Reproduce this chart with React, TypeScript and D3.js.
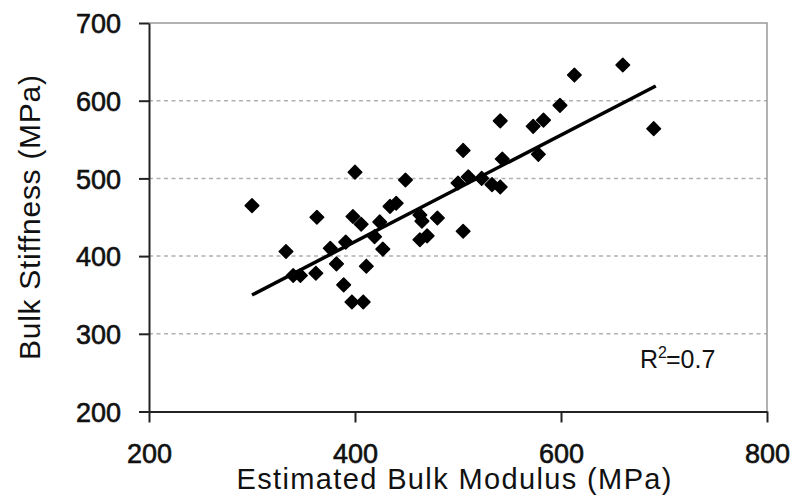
import React, { useEffect, useRef } from 'react';
import * as d3 from 'd3';

// estimated bulk modulus (MPa) vs measured bulk stiffness (MPa)
const modulus = [300, 333, 340, 347, 362, 363, 376, 382, 389, 391, 397, 408, 398, 400, 406, 411, 419, 424, 427, 434, 440, 449, 463, 465, 463, 470, 480, 505, 505, 500, 510, 523, 533, 541, 543, 541, 573, 583, 578, 599, 613, 660, 690];
const stiffness = [465, 406, 375, 375, 378, 450, 410, 390, 363, 418, 341, 341, 451, 508, 441, 387, 425, 444, 409, 464, 468, 498, 453, 445, 421, 426, 449, 432, 536, 494, 502, 500, 492, 489, 525, 574, 567, 575, 531, 594, 633, 646, 564];

const xTicks = [200, 400, 600, 800];
const yTicks = [200, 300, 400, 500, 600, 700];

// linear fit drawn on the chart
const fitX = [300, 692];
const fitY = [350, 619];
const rSquared = '0.7';

const font = '"Liberation Sans", Arial, sans-serif';

export default function App() {
  const ref = useRef<SVGSVGElement>(null);

  useEffect(() => {
    const svg = d3.select(ref.current);
    svg.selectAll('*').remove();

    const x = d3.scaleLinear().domain([200, 800]).range([149, 767]);
    const y = d3.scaleLinear().domain([200, 700]).range([411.5, 23]);

    // dashed gridlines
    svg.append('g')
      .selectAll('line')
      .data(yTicks.filter(d => d > 200 && d < 700))
      .join('line')
      .attr('x1', x(200)).attr('x2', x(800))
      .attr('y1', d => y(d)).attr('y2', d => y(d))
      .attr('stroke', '#b0b0b0')
      .attr('stroke-width', 1.5)
      .attr('stroke-dasharray', '4,3.5');

    // top + right frame
    svg.append('path')
      .attr('d', `M${x(200)},${y(700)}H${x(800)}V${y(200)}`)
      .attr('fill', 'none')
      .attr('stroke', '#999')
      .attr('stroke-width', 1.5);

    const yAxis = svg.append('g')
      .attr('transform', `translate(${x(200)},0)`)
      .call(d3.axisLeft(y).tickValues(yTicks).tickSize(10).tickSizeOuter(0).tickPadding(18).tickFormat(d3.format('d')));
    yAxis.select('.domain').attr('stroke', '#222').attr('stroke-width', 2);
    yAxis.selectAll('.tick line').attr('stroke', '#222').attr('stroke-width', 2);
    yAxis.selectAll('.tick text')
      .attr('font-family', font).attr('font-size', 27).attr('fill', '#111')
      .attr('stroke', '#111').attr('stroke-width', 0.6)
      .attr('dy', '0.36em');

    const xAxis = svg.append('g')
      .attr('transform', `translate(0,${y(200)})`)
      .call(d3.axisBottom(x).tickValues(xTicks).tickSize(11).tickSizeOuter(0).tickFormat(d3.format('d')));
    xAxis.select('.domain').attr('stroke', '#222').attr('stroke-width', 2);
    xAxis.selectAll('.tick line').attr('stroke', '#222').attr('stroke-width', 2);
    xAxis.selectAll('.tick text')
      .attr('font-family', font).attr('font-size', 27).attr('fill', '#111')
      .attr('stroke', '#111').attr('stroke-width', 0.6)
      .attr('dy', null)
      .attr('y', 463 - y(200));

    // trend line
    svg.append('line')
      .attr('x1', x(fitX[0])).attr('y1', y(fitY[0]))
      .attr('x2', x(fitX[1])).attr('y2', y(fitY[1]))
      .attr('stroke', '#000')
      .attr('stroke-width', 3.5);

    // points
    const diamond = d3.symbol(d3.symbolSquare, 92)();
    svg.append('g')
      .selectAll('path')
      .data(d3.range(modulus.length))
      .join('path')
      .attr('d', diamond)
      .attr('transform', i => `translate(${x(modulus[i])},${y(stiffness[i])}) rotate(45)`)
      .attr('fill', '#000')
      .attr('stroke', '#000')
      .attr('stroke-width', 1.5)
      .attr('stroke-linejoin', 'round');

    // R squared label
    const r2 = svg.append('text')
      .attr('x', 640).attr('y', 368)
      .attr('font-family', font).attr('font-size', 25).attr('fill', '#111');
    r2.append('tspan').text('R');
    r2.append('tspan').attr('font-size', 16).attr('dy', -10).text('2');
    r2.append('tspan').attr('dy', 10).attr('dx', -1).text('=' + rSquared);

    // axis titles
    svg.append('text')
      .attr('x', 454).attr('y', 489)
      .attr('text-anchor', 'middle')
      .attr('font-family', font).attr('font-size', 29).attr('fill', '#111')
      .attr('textLength', 435)
      .text('Estimated Bulk Modulus (MPa)');

    svg.append('text')
      .attr('transform', 'translate(40,217.5) rotate(-90)')
      .attr('text-anchor', 'middle')
      .attr('font-family', font).attr('font-size', 30).attr('fill', '#111')
      .attr('textLength', 285)
      .text('Bulk Stiffness (MPa)');
  }, []);

  return (
    <svg
      ref={ref}
      width={793}
      height={500}
      style={{ position: 'absolute', left: 0, top: 0, background: '#fff' }}
    />
  );
}
